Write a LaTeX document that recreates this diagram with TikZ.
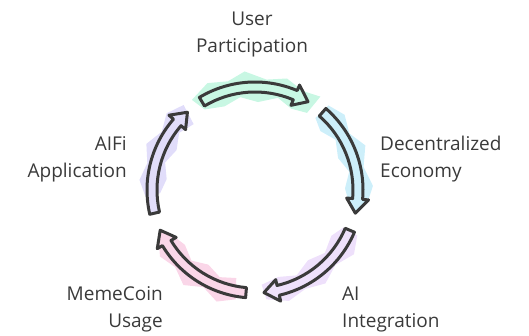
\documentclass[tikz,border=0pt]{standalone}
\usepackage{fontspec}
\setmainfont{Open Sans}
\usepackage{tikz}
\usepackage{color}
\definecolor{mygray}{RGB}{58,58,58}
\definecolor{mymint}{RGB}{200,247,227}
\definecolor{mycyan}{RGB}{205,239,250}
\definecolor{mylilac}{RGB}{238,224,251}
\definecolor{mypink}{RGB}{250,214,232}
\definecolor{mypurple}{RGB}{225,221,250}
\tikzset{
  arrowbody/.style={draw=mygray, line width=3, line join=round},
  patch/.style={draw=none},
  labell/.style={inner sep=0, text=mygray, align=left, anchor=west,
    font=\fontsize{19}{27}\selectfont},
  labelr/.style={inner sep=0, text=mygray, align=right, anchor=east,
    font=\fontsize{19}{27}\selectfont},
  labelc/.style={inner sep=0, text=mygray, align=center,
    font=\fontsize{19}{27}\selectfont}
}
\begin{document}
\begin{tikzpicture}[x=1pt,y=1pt]

\useasboundingbox (-255,-146) rectangle (274,190);

% jagged patches
\fill[patch, mymint] (125:110) -- (114:117) -- (104:112) -- (95:119) -- (84:111) -- (74:116) -- (64:110) -- (55:114)
  -- (56:93) -- (66:89) -- (76:95) -- (88:88) -- (99:94) -- (110:89) -- (122:95) -- cycle;
\fill[patch, mycyan] (49:112) -- (40:117) -- (31:110) -- (22:119) -- (12:111) -- (2:118) -- (-7:113)
  -- (-8:95) -- (1:90) -- (11:96) -- (21:89) -- (32:95) -- (42:88) -- (50:94) -- cycle;
\fill[patch, mylilac] (-24:112) -- (-33:118) -- (-43:110) -- (-53:117) -- (-63:111) -- (-73:116) -- (-84:110)
  -- (-86:95) -- (-75:90) -- (-64:95) -- (-53:88) -- (-42:94) -- (-31:89) -- (-23:96) -- cycle;
\fill[patch, mypink] (-100:111) -- (-109:118) -- (-118:110) -- (-127:119) -- (-136:111) -- (-145:116) -- (-152:109)
  -- (-151:94) -- (-142:89) -- (-132:95) -- (-122:88) -- (-112:94) -- (-102:90) -- cycle;
\fill[patch, mypurple] (130:111) -- (139:117) -- (148:110) -- (157:118) -- (166:111) -- (175:116) -- (183:110)
  -- (182:95) -- (173:89) -- (163:94) -- (153:88) -- (143:95) -- (133:90) -- cycle;

% arrows
\draw[arrowbody, fill=mymint] (121:108) arc[start angle=121, end angle=67, radius=108] -- (67:114) -- (59:103) -- (67:92) -- (67:98)
  arc[start angle=67, end angle=121, radius=98] -- cycle;
\draw[arrowbody, fill=mycyan] (49:108) arc[start angle=49, end angle=-5, radius=108] -- (-5:114) -- (-13:103) -- (-5:92) -- (-5:98)
  arc[start angle=-5, end angle=49, radius=98] -- cycle;
\draw[arrowbody, fill=mylilac] (-23:108) arc[start angle=-23, end angle=-77, radius=108] -- (-77:114) -- (-85:103) -- (-77:92) -- (-77:98)
  arc[start angle=-77, end angle=-23, radius=98] -- cycle;
\draw[arrowbody, fill=mypink] (-95:108) arc[start angle=-95, end angle=-149, radius=108] -- (-149:114) -- (-157:103) -- (-149:92) -- (-149:98)
  arc[start angle=-149, end angle=-95, radius=98] -- cycle;
\draw[arrowbody, fill=mypurple] (193:108) arc[start angle=193, end angle=139, radius=108] -- (139:114) -- (131:103) -- (139:92) -- (139:98)
  arc[start angle=139, end angle=193, radius=98] -- cycle;

\node [labelc] (user) at (-3,155) {User\\Participation};
\node [labell] (economy) at (125,31) {Decentralized\\Economy};
\node [labell] (aiint) at (87,-119) {AI\\Integration};
\node [labelr] (meme) at (-92,-119) {MemeCoin\\Usage};
\node [labelr] (aifi) at (-128,31) {AIFi\\Application};

\end{tikzpicture}
\end{document}
